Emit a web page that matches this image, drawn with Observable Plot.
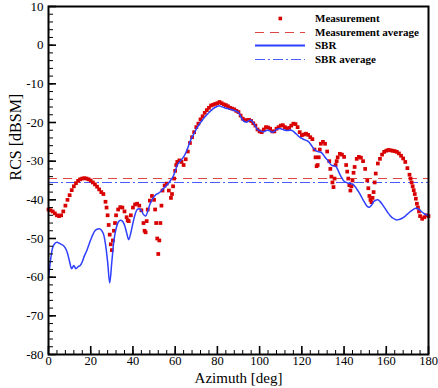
<!DOCTYPE html>
<html><head><meta charset="utf-8">
<script src="https://cdn.jsdelivr.net/npm/d3@7"></script>
<script src="https://cdn.jsdelivr.net/npm/@observablehq/plot@0.6"></script>
<style>body{margin:0;background:#fff}</style>
</head><body><div id="chart"></div>
<script>
// Measurement (1-degree readings)
const measAz = d3.range(0, 181, 1);
const measRcs = [
-42.5,-42.7,-43,-43.5,-44,-44.2,-44,-43,-41.5,-40,
-38.8,-37.5,-36.5,-35.7,-35.1,-34.7,-34.5,-34.4,-34.5,-34.7,
-35,-35.5,-36,-36.6,-37.3,-38,-38.5,-40.5,-44,-49,
-53,-48,-44,-42.5,-41.9,-42,-43,-44.5,-45.5,-44,
-42,-41.2,-41,-41.5,-42.7,-46,-48.4,-42.5,-40.2,-39,
-40,-46,-54,-46,-37.6,-36.3,-35.8,-37.6,-39.5,-36.5,
-32.5,-30.2,-29.8,-30.2,-31,-29.5,-27.5,-25.3,-23.8,-22.5,
-21.2,-20.3,-19.2,-18.4,-17.5,-16.8,-16.2,-15.6,-15.4,-15.2,
-15,-14.7,-15,-15.3,-15.5,-15.8,-16.2,-16.4,-16.6,-17,
-17.3,-18.2,-19,-19.4,-19.4,-19.3,-19.6,-20.2,-20.8,-21.8,
-22.3,-22.5,-21.8,-21.2,-21.3,-21.6,-22.3,-22.3,-21.6,-21.2,
-20.8,-20.7,-21.2,-21.6,-21.4,-20.8,-20.3,-20.4,-21.2,-22.5,
-23.3,-23.1,-22.9,-23.2,-23.8,-24.3,-27,-31.3,-29,-25.5,
-25,-25.5,-27.5,-30,-34,-36.7,-31,-29,-28.1,-28.3,
-28.9,-31,-34.5,-37.6,-35,-31.5,-29.4,-28.9,-29.1,-30,
-32,-35,-39,-40.6,-38,-33.2,-30.6,-29.4,-28.3,-27.6,
-27.3,-27.1,-27.2,-27.3,-27.4,-27.6,-28,-28.6,-29.3,-30.2,
-31.8,-33.5,-35.5,-37.5,-39.7,-42,-44.2,-44.9,-44.5,-44,
-44.2];
// Measurement: extra readings in the steep nulls (half-degree points)
const measAzExtra = [27.5, 28.5, 29.5, 30.5, 31.5, 37.5, 45.5, 46.5, 50.5, 51.5, 52.5, 53.5,
  58.5, 59.5, 60.5, 126.5, 127.5, 128.5, 133.5, 134.5, 135.5, 136.5, 141.5, 142.5, 143.5, 144.5,
  151.5, 152.5, 153.5, 154.5, 171.5, 172.5, 173.5, 174.5, 175.5];
const measRcsExtra = [-42, -46.5, -51.5, -50.5, -46, -45.3, -48, -45.5, -42.5, -50, -50.5, -41.5,
  -38.5, -34.5, -31, -29, -31, -27, -32, -35.5, -34.5, -30, -32.7, -36.2, -36.5, -33,
  -37, -40, -39.5, -35.5, -34.5, -36.5, -38.5, -41, -43];
// SBR
const sbrAz = d3.range(0, 181, 1);
const sbrRcs = [
-60.3,-55.5,-52.3,-51.3,-51,-51.2,-51.5,-51.8,-52.5,-53.8,
-56,-57.8,-57,-57.8,-57.3,-57,-56,-54.5,-53.3,-51.8,
-50.3,-49,-48,-47.6,-47.5,-47.8,-48.8,-51.5,-56,-61.5,
-56,-50.5,-47.5,-45.8,-45.3,-45.5,-46.5,-48.5,-50.3,-48.5,
-46,-43.8,-42.5,-42.3,-42.8,-43.8,-44.2,-43,-41.2,-40,
-39.2,-38.6,-38.3,-37.9,-37.3,-36.8,-36.2,-35.6,-34.8,-34,
-32.6,-31,-30.2,-29.6,-28.9,-27.9,-26.5,-25,-23.8,-22.8,
-21.7,-20.8,-20,-19.3,-18.6,-18,-17.4,-16.9,-16.4,-16.1,
-15.8,-15.7,-15.9,-16.1,-16.3,-16.4,-16.6,-16.7,-16.9,-17.1,
-17.4,-18.4,-19.4,-19.8,-19.9,-19.5,-19.4,-20,-21,-21.8,
-22.1,-22.3,-22.4,-22.1,-22,-22.2,-22.5,-22.3,-21.8,-21.6,
-21.6,-21.8,-22,-22.1,-22,-22,-22.3,-22.8,-23.3,-23.8,
-24.1,-24.4,-24.6,-24.9,-25.5,-26.3,-27,-27.4,-27.6,-27.7,
-28.2,-29,-29.6,-30.4,-31,-31.2,-31.3,-32.2,-33.4,-34.4,
-35.2,-35.5,-35.7,-35.8,-35.9,-36.4,-37.2,-38,-39,-40,
-40.9,-41.7,-41.9,-41.4,-40.5,-40.1,-40,-40.4,-41.1,-41.9,
-42.7,-43.5,-44.2,-44.7,-45,-45.2,-45.1,-44.9,-44.6,-44.2,
-43.7,-43.2,-42.8,-42.4,-42.2,-42.3,-42.7,-43.2,-43.6,-43.9,
-44.2];
const measAvg = -34.5;
const sbrAvg = -35.5;
const xMajor = [0, 20, 40, 60, 80, 100, 120, 140, 160, 180];
const xMinor = d3.range(0, 181, 4);
const yMajor = [-80, -70, -60, -50, -40, -30, -20, -10, 0, 10];
const yMinor = d3.range(-80, 11, 2);
const legendLabels = ["Measurement", "Measurement average", "SBR", "SBR average"];
const xLabel = "Azimuth [deg]";
const yLabel = "RCS [dBSM]";

const meas = measAz.map((a, i) => ({az: a, rcs: measRcs[i]}))
  .concat(measAzExtra.map((a, i) => ({az: a, rcs: measRcsExtra[i]})));
const sbr = sbrAz.map((a, i) => ({az: a, rcs: sbrRcs[i]}));

const serif = "'Liberation Serif','Times New Roman',serif";
const RED = "#d80000", BLUE = "#2f3fff";

const chart = Plot.plot({
  width: 438, height: 388,
  marginLeft: 48, marginRight: 10, marginTop: 6, marginBottom: 34,
  style: {fontFamily: serif, fontSize: "13px", background: "#fff", color: "#000"},
  x: {domain: [0, 180]},
  y: {domain: [-80, 10]},
  marks: [
    Plot.ruleY([measAvg], {stroke: "#e04545", strokeWidth: 1.1, strokeDasharray: "9,6"}),
    Plot.ruleY([sbrAvg], {stroke: "#4a5cff", strokeWidth: 1.1, strokeDasharray: "10,3,2,3"}),
    Plot.dot(meas, {x: "az", y: "rcs", symbol: "square", r: 2.1, fill: RED, stroke: "none"}),
    Plot.line(sbr, {x: "az", y: "rcs", stroke: BLUE, strokeWidth: 1.5, curve: "catmull-rom"}),
    Plot.axisX({ticks: xMinor, tickSize: -4, tickFormat: () => "", label: null}),
    Plot.axisX({ticks: xMajor, tickSize: -8, tickFormat: () => "", label: null, strokeWidth: 1.6}),
    Plot.axisX({ticks: xMajor, tickSize: 0, tickPadding: 2, tickFormat: d => String(d), label: null, fontSize: 12.5}),
    Plot.axisY({ticks: yMinor, tickSize: -5, tickFormat: () => "", label: null}),
    Plot.axisY({ticks: yMajor, tickSize: -8, tickFormat: () => "", label: null, strokeWidth: 1.6}),
    Plot.axisY({ticks: yMajor, tickSize: 0, tickPadding: 5, tickFormat: d => String(d), label: null}),
    Plot.text([xLabel], {frameAnchor: "bottom", dy: 28, text: d => d, fontSize: 15}),
    Plot.text([yLabel], {frameAnchor: "left", dx: -33, rotate: -90, text: d => d, fontSize: 16}),
    Plot.frame({stroke: "#000", strokeWidth: 2})
  ]
});

// legend (inside plot, top right)
const svg = d3.select(chart);
const lg = svg.append("g");
const rows = [18.5, 32.5, 45.5, 59.5];
lg.append("rect").attr("x", 278.5).attr("y", rows[0] - 1.8).attr("width", 3.6).attr("height", 3.6).attr("fill", RED);
lg.append("line").attr("x1", 255).attr("x2", 305).attr("y1", rows[1]).attr("y2", rows[1])
  .attr("stroke", "#e04545").attr("stroke-width", 1.1).attr("stroke-dasharray", "9,6");
lg.append("line").attr("x1", 255).attr("x2", 305).attr("y1", rows[2]).attr("y2", rows[2])
  .attr("stroke", BLUE).attr("stroke-width", 2);
lg.append("line").attr("x1", 255).attr("x2", 305).attr("y1", rows[3]).attr("y2", rows[3])
  .attr("stroke", "#4a5cff").attr("stroke-width", 1.1).attr("stroke-dasharray", "10,3,2,3");
legendLabels.forEach((t, i) => {
  lg.append("text").attr("x", 315).attr("y", rows[i]).attr("dy", "0.35em")
    .style("font-family", serif).style("font-weight", "bold").style("font-size", "11px")
    .style("text-anchor", "start").style("fill", "#000").text(t);
});

document.getElementById("chart").append(chart);
</script>
</body></html>
